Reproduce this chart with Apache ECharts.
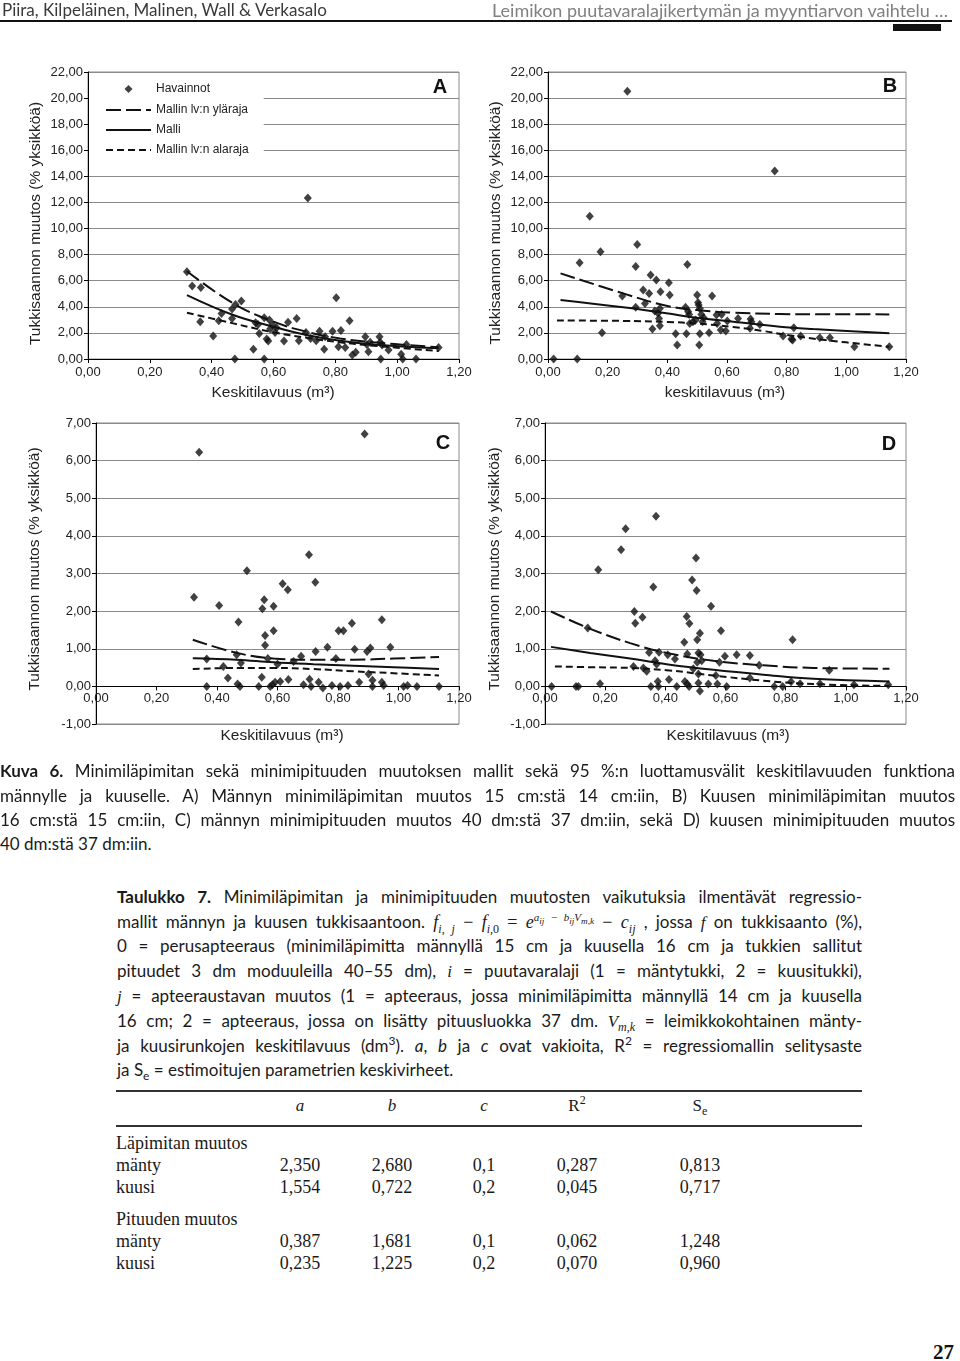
<!DOCTYPE html>
<html><head><meta charset="utf-8">
<script src="https://cdn.jsdelivr.net/npm/echarts/dist/echarts.min.js"></script>
<style>
body{margin:0;background:#fff;}
#page{position:relative;width:960px;height:1361px;overflow:hidden;background:#fff;}
#chart{position:absolute;left:0;top:0;width:960px;height:760px;}
.sans{font-family:Lato,"Open Sans",sans-serif;}
.hdr{position:absolute;top:0;line-height:20px;font-size:17px;white-space:nowrap;}
.jl{position:absolute;line-height:24px;font-size:17px;color:#1a1a1a;text-align:justify;text-align-last:justify;}
.ll{position:absolute;line-height:24px;font-size:17px;color:#1a1a1a;white-space:nowrap;}
.serif{font-family:"Liberation Serif","DejaVu Serif",serif;}
sub,sup{line-height:0;}
.tbl{position:absolute;font-family:"Liberation Serif",serif;font-size:18px;line-height:22px;color:#1a1a1a;white-space:nowrap;}
.rule{position:absolute;left:116px;width:746px;height:2px;background:#333;}
</style></head>
<body><div id="page">
<div id="chart"></div>
<div class="hdr sans" style="left:2px;color:#3a3a3a;">Piira, Kilpeläinen, Malinen, Wall &amp; Verkasalo</div>
<div class="hdr sans" style="right:12px;color:#808080;font-size:18px;">Leimikon puutavaralajikertymän ja myyntiarvon vaihtelu …</div>
<div style="position:absolute;left:0;top:20px;width:952px;height:2px;background:#111;"></div>
<div style="position:absolute;left:893px;top:24px;width:48px;height:7px;background:#111;"></div>

<div class="jl sans" style="left:0;top:759px;width:955px;"><b>Kuva 6.</b> Minimiläpimitan sekä minimipituuden muutoksen mallit sekä 95 %:n luottamusvälit keskitilavuuden funktiona</div>
<div class="jl sans" style="left:0;top:784px;width:955px;">männylle ja kuuselle. A) Männyn minimiläpimitan muutos 15 cm:stä 14 cm:iin, B) Kuusen minimiläpimitan muutos</div>
<div class="jl sans" style="left:0;top:808px;width:955px;">16 cm:stä 15 cm:iin, C) männyn minimipituuden muutos 40 dm:stä 37 dm:iin, sekä D) kuusen minimipituuden muutos</div>
<div class="ll sans" style="left:0;top:832px;">40 dm:stä 37 dm:iin.</div>

<div class="jl sans" style="left:117px;top:885px;width:745px;"><b>Taulukko 7.</b> Minimiläpimitan ja minimipituuden muutosten vaikutuksia ilmentävät regressio-</div>
<div class="jl sans" style="left:117px;top:910px;width:745px;">mallit männyn ja kuusen tukkisaantoon. <span class="serif" style="font-size:18px;"><i>f</i><sub style="font-size:12px;"><i>i</i>, <i>j</i></sub> − <i>f</i><sub style="font-size:12px;"><i>i</i>,0</sub> = <i>e</i><sup style="font-size:11px;"><i>a<sub>ij</sub></i> − <i>b<sub>ij</sub>V<sub>m,k</sub></i></sup> − <i>c</i><sub style="font-size:12px;"><i>ij</i></sub></span> , jossa <i class="serif">f</i> on tukkisaanto (%),</div>
<div class="jl sans" style="left:117px;top:934px;width:745px;">0 = perusapteeraus (minimiläpimitta männyllä 15 cm ja kuusella 16 cm ja tukkien sallitut</div>
<div class="jl sans" style="left:117px;top:959px;width:745px;">pituudet 3 dm moduuleilla 40–55 dm), <i class="serif">i</i> = puutavaralaji (1 = mäntytukki, 2 = kuusitukki),</div>
<div class="jl sans" style="left:117px;top:984px;width:745px;"><i class="serif">j</i> = apteeraustavan muutos (1 = apteeraus, jossa minimiläpimitta männyllä 14 cm ja kuusella</div>
<div class="jl sans" style="left:117px;top:1009px;width:745px;">16 cm; 2 = apteeraus, jossa on lisätty pituusluokka 37 dm. <i class="serif">V<sub style="font-size:12px;">m,k</sub></i> = leimikkokohtainen mänty-</div>
<div class="jl sans" style="left:117px;top:1034px;width:745px;">ja kuusirunkojen keskitilavuus (dm<sup style="font-size:12px;">3</sup>). <i>a</i>, <i>b</i> ja <i>c</i> ovat vakioita, R<sup style="font-size:12px;">2</sup> = regressiomallin selitysaste</div>
<div class="ll sans" style="left:117px;top:1058px;">ja S<sub style="font-size:12px;">e</sub> = estimoitujen parametrien keskivirheet.</div>

<div class="rule" style="top:1090px;"></div>
<div class="rule" style="top:1125px;"></div>
<div id="table"></div>
<div style="position:absolute;left:933px;top:1340px;font-family:'Liberation Serif',serif;font-weight:bold;font-size:21px;line-height:24px;color:#111;">27</div>
</div>
<script>
// ---------- DATA ----------
const xTickValues = [0, 0.2, 0.4, 0.6, 0.8, 1.0, 1.2];

// Panel A: männyn minimiläpimitan muutos
const obsA = [[0.32,6.68],[0.337,5.59],[0.365,5.48],[0.363,2.86],[0.405,1.76],[0.423,2.93],[0.432,3.49],[0.466,3.83],[0.466,3.11],[0.477,4.18],[0.496,4.44],[0.475,0],[0.535,0.74],[0.542,2.78],[0.55,2.65],[0.554,1.96],[0.57,0],[0.57,3.16],[0.578,1.53],[0.583,1.38],[0.587,2.98],[0.589,2.30],[0.597,2.60],[0.605,2.04],[0.61,2.40],[0.634,1.38],[0.647,2.81],[0.675,3.11],[0.682,1.40],[0.705,2.04],[0.711,12.35],[0.72,1.58],[0.738,1.40],[0.749,2.12],[0.764,0.74],[0.767,1.71],[0.791,2.12],[0.803,4.69],[0.81,0.94],[0.818,2.19],[0.832,0.89],[0.846,2.93],[0.855,0.31],[0.866,0.51],[0.897,1.71],[0.902,1.12],[0.907,0.56],[0.913,1.28],[0.943,1.71],[0.947,0],[0.951,1.07],[0.945,1.28],[0.972,0.69],[1.013,0.36],[1.018,0],[1.03,1.12],[1.061,0],[1.134,0.89]];
const upperA = [[0.32,6.73],[0.47,4.26],[0.60,2.86],[0.707,2.09],[0.815,1.58],[0.923,1.28],[1.134,0.90]];
const modelA = [[0.32,4.90],[0.47,3.37],[0.60,2.47],[0.707,1.84],[0.815,1.40],[0.923,1.12],[1.134,0.82]];
const lowerA = [[0.32,3.55],[0.47,2.73],[0.60,2.04],[0.707,1.63],[0.815,1.28],[0.923,1.02],[1.134,0.61]];

// Panel B: kuusen minimiläpimitan muutos
const obsB = [[0.019,0],[0.098,0],[0.106,7.38],[0.14,10.95],[0.176,8.22],[0.181,2.02],[0.249,4.82],[0.266,20.52],[0.294,3.96],[0.294,7.10],[0.299,8.78],[0.319,5.28],[0.325,4.26],[0.339,5.03],[0.344,6.43],[0.35,2.30],[0.358,3.68],[0.363,6.05],[0.369,3.50],[0.372,3.11],[0.375,3.88],[0.375,2.55],[0.377,5.16],[0.405,5.84],[0.408,4.90],[0.428,1.94],[0.433,1.07],[0.461,3.96],[0.464,1.94],[0.467,7.25],[0.47,3.62],[0.473,3.42],[0.475,2.73],[0.486,2.86],[0.495,2.99],[0.5,4.90],[0.503,4.34],[0.505,4.13],[0.509,3.88],[0.507,1.07],[0.509,1.94],[0.514,3.42],[0.518,2.86],[0.522,3.16],[0.54,2.02],[0.55,4.82],[0.565,3.37],[0.567,2.73],[0.582,3.42],[0.579,2.22],[0.596,2.14],[0.601,2.91],[0.637,3.11],[0.679,3.06],[0.682,2.86],[0.677,2.35],[0.71,2.65],[0.76,14.42],[0.788,1.76],[0.816,1.53],[0.82,1.45],[0.824,2.40],[0.847,1.76],[0.911,1.63],[0.945,1.63],[1.027,0.94],[1.144,0.94]];
const upperB = [[0.042,6.56],[0.252,5.03],[0.397,4.08],[0.498,3.75],[0.621,3.55],[0.777,3.45],[0.889,3.43],[1.144,3.42]];
const modelB = [[0.042,4.52],[0.252,3.96],[0.397,3.50],[0.498,3.16],[0.621,2.86],[0.777,2.48],[0.889,2.30],[1.144,1.97]];
const lowerB = [[0.03,2.95],[0.25,2.92],[0.40,2.84],[0.50,2.72],[0.62,2.45],[0.72,2.15],[0.80,1.85],[0.93,1.45],[1.144,0.94]];

// Panel C: männyn minimipituuden muutos
const obsC = [[0.324,2.37],[0.341,6.22],[0.366,0.73],[0.366,0],[0.407,2.15],[0.421,0.53],[0.436,0.22],[0.465,0.84],[0.471,1.71],[0.468,0.06],[0.476,0],[0.479,0.62],[0.499,3.07],[0.538,0],[0.548,0.24],[0.55,2.06],[0.556,2.30],[0.559,1.35],[0.559,1.09],[0.568,0.74],[0.576,0],[0.583,0.04],[0.587,2.13],[0.587,1.48],[0.592,0.11],[0.6,0.59],[0.609,0.13],[0.617,2.73],[0.634,2.57],[0.636,0.18],[0.653,0.66],[0.678,0.80],[0.686,0.04],[0.704,3.50],[0.706,0.19],[0.711,0],[0.725,2.77],[0.726,0.93],[0.736,0.11],[0.75,-0.04],[0.765,1.04],[0.78,0.02],[0.793,0.74],[0.802,1.48],[0.807,0],[0.818,1.48],[0.833,0.02],[0.846,1.68],[0.855,0.99],[0.87,0.11],[0.888,6.71],[0.896,0.93],[0.907,1.02],[0.901,0.33],[0.914,0.16],[0.914,0],[0.945,1.77],[0.945,0.11],[0.951,0.02],[0.973,1.04],[1.017,0],[1.03,0.02],[1.061,0],[1.134,0]];
const upperC = [[0.32,1.24],[0.465,0.89],[0.587,0.74],[0.719,0.71],[0.851,0.71],[0.984,0.74],[1.134,0.78]];
const modelC = [[0.32,0.75],[0.465,0.71],[0.587,0.64],[0.719,0.59],[0.851,0.55],[0.984,0.51],[1.134,0.46]];
const lowerC = [[0.32,0.46],[0.465,0.49],[0.587,0.49],[0.719,0.46],[0.851,0.40],[0.984,0.35],[1.134,0.29]];

// Panel D: kuusen minimipituuden muutos
const obsD = [[0.022,0],[0.103,0],[0.111,0],[0.142,1.55],[0.177,3.10],[0.183,0.07],[0.253,3.63],[0.268,4.19],[0.294,0.53],[0.297,1.99],[0.3,1.68],[0.324,1.84],[0.327,0.49],[0.338,0.40],[0.346,0.90],[0.352,0],[0.36,2.64],[0.366,0.68],[0.369,4.52],[0.371,0.59],[0.375,0.13],[0.377,0],[0.379,0.91],[0.408,0.84],[0.412,0.18],[0.432,0.73],[0.438,0],[0.463,1.17],[0.465,0.13],[0.471,1.86],[0.473,0.06],[0.473,0.86],[0.479,0],[0.48,1.67],[0.489,2.83],[0.493,0.47],[0.502,3.41],[0.504,2.55],[0.506,1.24],[0.506,0.64],[0.51,0.89],[0.51,0.33],[0.51,0.09],[0.515,1.41],[0.515,-0.12],[0.517,0.84],[0.521,0.68],[0.543,0.06],[0.552,2.13],[0.568,0.29],[0.573,0.06],[0.58,0.64],[0.585,1.48],[0.598,0.80],[0.604,0],[0.637,0.84],[0.681,0.82],[0.681,0.22],[0.712,0.56],[0.762,0],[0.79,0],[0.818,0.12],[0.823,1.24],[0.848,0.07],[0.914,0.07],[0.945,0.43],[1.027,0.04],[1.141,0.04]];
const upperD = [[0.02,1.99],[0.15,1.53],[0.283,1.15],[0.404,0.89],[0.56,0.68],[0.726,0.56],[0.892,0.49],[1.145,0.47]];
const modelD = [[0.02,1.05],[0.15,0.89],[0.283,0.74],[0.404,0.59],[0.56,0.44],[0.726,0.31],[0.892,0.20],[1.145,0.13]];
const lowerD = [[0.033,0.53],[0.15,0.51],[0.283,0.49],[0.404,0.43],[0.56,0.29],[0.726,0.15],[0.892,0.06],[1.145,0.01]];

const panelLetters = ['A','B','C','D'];
const xTitles = ['Keskitilavuus (m³)','keskitilavuus (m³)','Keskitilavuus (m³)','Keskitilavuus (m³)'];
const yTitle = 'Tukkisaannon muutos (% yksikköä)';
const seriesNames = ['Havainnot','Mallin lv:n yläraja','Malli','Mallin lv:n alaraja'];

const tableHead = ['a','b','c','R2','Se'];
const tableGroups = ['Läpimitan muutos','Pituuden muutos'];
const tableRows = [
  [['mänty','2,350','2,680','0,1','0,287','0,813'],['kuusi','1,554','0,722','0,2','0,045','0,717']],
  [['mänty','0,387','1,681','0,1','0,062','1,248'],['kuusi','0,235','1,225','0,2','0,070','0,960']]
];

// ---------- TABLE ----------
(function(){
  const colX = [300, 392, 484, 577, 700];
  const t = document.getElementById('table');
  let html = '';
  const headHtml = ['<i>a</i>','<i>b</i>','<i>c</i>','R<sup style="font-size:12px">2</sup>','S<sub style="font-size:12px">e</sub>'];
  tableHead.forEach((h,i)=>{
    html += `<div class="tbl" style="left:${colX[i]-40}px;width:80px;text-align:center;top:${1106-11}px;font-size:17px;">${headHtml[i]}</div>`;
  });
  const groupY = [1143, 1219];
  tableGroups.forEach((g,gi)=>{
    html += `<div class="tbl" style="left:116px;top:${groupY[gi]-11}px;">${g}</div>`;
    tableRows[gi].forEach((row,ri)=>{
      const y = groupY[gi] + 22*(ri+1);
      html += `<div class="tbl" style="left:116px;top:${y-11}px;">${row[0]}</div>`;
      for(let c=1;c<row.length;c++){
        html += `<div class="tbl" style="left:${colX[c-1]-40}px;width:80px;text-align:center;top:${y-11}px;">${row[c]}</div>`;
      }
    });
  });
  t.innerHTML = html;
})();

// fit justified lines
document.querySelectorAll('.jl').forEach(el=>{
  el.style.whiteSpace='nowrap';
  let fs = 17;
  while(el.scrollWidth > el.clientWidth + 0.5 && fs > 12){ fs -= 0.25; el.style.fontSize = fs+'px'; }
  el.style.whiteSpace='normal';
});

// ---------- CHART ----------
const fmt = v => v.toFixed(2).replace('.', ',');
const FONT = '"Liberation Sans", Arial, sans-serif';
const grids = [
  {left:88, top:72, width:371, height:287},
  {left:548, top:72, width:358, height:287},
  {left:96, top:423, width:363, height:301},
  {left:545, top:423, width:361, height:301}
];
const yRanges = [[0,22,2],[0,22,2],[-1,7,1],[-1,7,1]];
const xLabelMargin = [7,7,6,6];
const panels = [
  [obsA, upperA, modelA, lowerA],
  [obsB, upperB, modelB, lowerB],
  [obsC, upperC, modelC, lowerC],
  [obsD, upperD, modelD, lowerD]
];
// x axis crosses the y axis at value 0: shift it up from the bottom edge
const xOffset = grids.map((g,i)=> -g.height * (0 - yRanges[i][0]) / (yRanges[i][1] - yRanges[i][0]));

const option = {
  animation:false,
  backgroundColor:'transparent',
  grid: grids.map(g=>Object.assign({show:true, borderColor:'#8a8a8a', borderWidth:1, backgroundColor:'transparent', containLabel:false, outerBoundsMode:'none'}, g)),
  xAxis: grids.map((g,i)=>({
    gridIndex:i, type:'value', min:0, max:1.2, interval:0.2, position:'bottom', offset:xOffset[i],
    axisLine:{show:true, onZero:false, lineStyle:{color:'#000', width:1}},
    axisTick:{show:true, inside:false, length:4, lineStyle:{color:'#000'}},
    axisLabel:{show:true, formatter:fmt, fontSize:13, color:'#222', margin:xLabelMargin[i], fontFamily:FONT, showMinLabel:true, showMaxLabel:true},
    splitLine:{show:false}
  })),
  yAxis: grids.map((g,i)=>({
    gridIndex:i, type:'value', min:yRanges[i][0], max:yRanges[i][1], interval:yRanges[i][2],
    axisLine:{show:true, onZero:false, lineStyle:{color:'#000', width:1}},
    axisTick:{show:true, inside:false, length:4, lineStyle:{color:'#000'}},
    axisLabel:{show:true, formatter:fmt, fontSize:13, color:'#222', margin:5, fontFamily:FONT, showMinLabel:true, showMaxLabel:true},
    splitLine:{show:true, lineStyle:{color:'#8a8a8a', width:1}}
  })),
  legend:{
    show:true, left:89, top:74, orient:'vertical', itemGap:8, itemWidth:45, itemHeight:14,
    padding:[8,15,4,16], backgroundColor:'#fff', borderWidth:0,
    textStyle:{fontSize:12, color:'#222', fontFamily:FONT},
    data:[
      {name:seriesNames[0], icon:'path://M-22.5,-7 M22.5,7 M0,-4 L4,0 L0,4 L-4,0 Z'},
      {name:seriesNames[1], itemStyle:{color:'rgba(0,0,0,0)', opacity:0, borderWidth:0}},
      {name:seriesNames[2], itemStyle:{color:'rgba(0,0,0,0)', opacity:0, borderWidth:0}},
      {name:seriesNames[3], itemStyle:{color:'rgba(0,0,0,0)', opacity:0, borderWidth:0}}
    ],
    selectedMode:false
  },
  series: [],
  graphic: []
};

panels.forEach((p,i)=>{
  option.series.push({
    name:seriesNames[0], type:'scatter', xAxisIndex:i, yAxisIndex:i, data:p[0],
    symbol:'diamond', symbolSize:[8,9], itemStyle:{color:'#111'}, z:3
  });
  const dashes = [[15,5], null, [7,4]];
  [1,2,3].forEach(k=>{
    option.series.push({
      name:seriesNames[k], type:'line', xAxisIndex:i, yAxisIndex:i, data:p[k],
      smooth:0.4, symbol:'none', showSymbol:false, z:4,
      itemStyle:{color:'#111'},
      lineStyle:{color:'#111', width:2, type: dashes[k-1] || 'solid'}
    });
  });
  // y-axis title
  const yTitleX = [36, 496, 35, 495][i];
  const yTitleY = [223.5, 223, 569, 569][i];
  option.graphic.push({
    type:'text', x:yTitleX, y:yTitleY, rotation:Math.PI/2, silent:true,
    style:{text:yTitle, align:'center', verticalAlign:'middle', font:'15.5px '+FONT, fill:'#222'}
  });
  // x-axis title
  const xtX = [273, 725, 282, 728][i];
  const xtY = [393, 393, 736, 736][i];
  option.graphic.push({
    type:'text', x:xtX, y:xtY, silent:true,
    style:{text:xTitles[i], align:'center', verticalAlign:'middle', font:'15.5px '+FONT, fill:'#222'}
  });
  // panel letter
  const lX = [440, 890, 443, 889][i];
  const lY = [87, 86, 443, 444][i];
  option.graphic.push({
    type:'text', x:lX, y:lY, silent:true,
    style:{text:panelLetters[i], align:'center', verticalAlign:'middle', font:'bold 20px '+FONT, fill:'#111'}
  });
});

const chart = echarts.init(document.getElementById('chart'), null, {renderer:'canvas'});
chart.setOption(option);
</script>
</body></html>
